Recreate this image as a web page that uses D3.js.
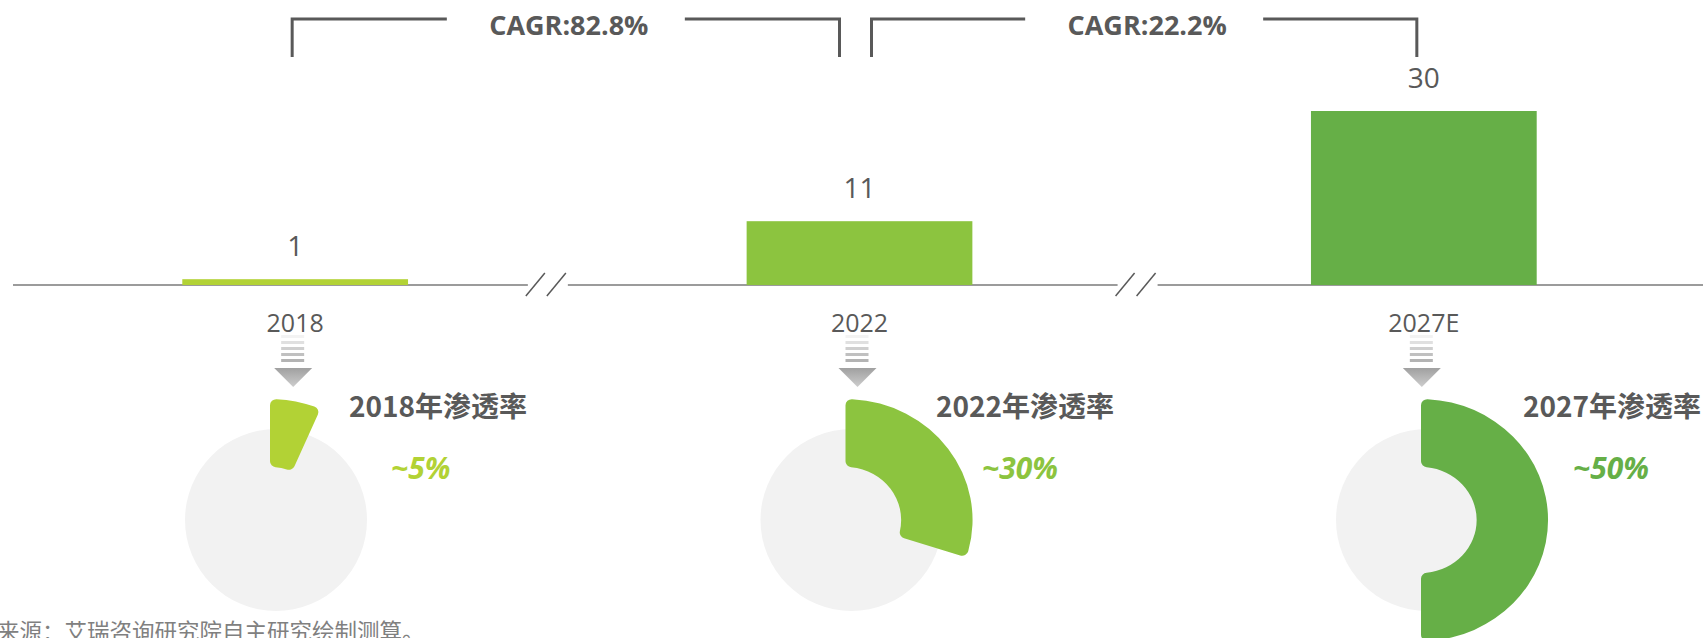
<!DOCTYPE html>
<html>

<head>
  <meta charset="utf-8">
  <title>CAGR penetration</title>
  <style>
    body { margin: 0; background: #fff; overflow: hidden; }
    svg { display: block; }
  </style>
</head>

<body>
  <div id='chart'></div>

  <script src="https://d3js.org/d3.v7.min.js"></script>
  <script>
    // data
    let years = ['2018', '2022', '2027E'];
    let marketValues = [1, 11, 30];
    let pctLabels = ['~5%', '~30%', '~50%'];
    let pctArc = [6.5, 30, 50];
    let pctTitles = ['2018年渗透率', '2022年渗透率', '2027年渗透率'];
    let cagrFrom = ['2018', '2022'];
    let cagrTo = ['2022', '2027E'];
    let cagrLabels = ['CAGR:82.8%', 'CAGR:22.2%'];
    let barColors = ['#b2d235', '#8cc43f', '#66af47'];
    let sourceText = '来源：艾瑞咨询研究院自主研究绘制测算。';

    let svgWidth = 1706;
    let svgHeight = 638;
    let baseY = 285;
    let grey = '#595959';
    // where the axis breaks sit inside each gap between bars
    let breakFrac = [0.41, 0.485];

    function translate(x, y) {
      return 'translate(' + x + ',' + y + ')';
    }

    let svg = d3.select('#chart').append('svg')
      .attr('width', svgWidth)
      .attr('height', svgHeight);

    let defs = svg.append('defs');
    let triGrad = defs.append('linearGradient').attr('id', 'triGrad')
      .attr('x1', 0).attr('y1', 0).attr('x2', 0).attr('y2', 1);
    triGrad.append('stop').attr('offset', '0%').attr('stop-color', '#a0a0a0');
    triGrad.append('stop').attr('offset', '100%').attr('stop-color', '#cdcdcd');

    let x = d3.scaleBand()
      .domain(years)
      .range([13, 1706])
      .paddingInner(0.6)
      .paddingOuter(0.3);

    let y = d3.scaleLinear()
      .domain([0, 30])
      .range([baseY, 111]);

    let donutX = d3.scalePoint().domain(years).range([276, 1427]);
    let titleX = d3.scalePoint().domain(years).range([349, 1523]);
    let pctX = d3.scalePoint().domain(years).range([391, 1573]);

    let cx = d => x(d) + x.bandwidth() / 2;

    // axis line with break marks
    let breaks = years.slice(1).map((d, i) => {
      let a = x(years[i]) + x.bandwidth();
      let b = x(d);
      return a + (b - a) * breakFrac[i];
    });
    let segs = [];
    let start = 13;
    breaks.forEach(b => {
      segs.push([start, b - 19]);
      start = b + 21;
    });
    segs.push([start, 1703]);

    svg.selectAll('.axisSeg').data(segs).enter()
      .append('line')
      .attr('class', 'axisSeg')
      .attr('x1', d => d[0]).attr('x2', d => d[1])
      .attr('y1', baseY).attr('y2', baseY)
      .style('stroke', '#7a7a7a')
      .style('stroke-width', 1.3);

    breaks.forEach(b => {
      [-11, 10].forEach(off => {
        svg.append('line')
          .attr('x1', b + off - 10).attr('y1', baseY + 11)
          .attr('x2', b + off + 9).attr('y2', baseY - 12)
          .style('stroke', grey)
          .style('stroke-width', 1.5);
      });
    });

    // bars
    svg.selectAll('.bar').data(marketValues).enter()
      .append('rect')
      .attr('class', 'bar')
      .attr('x', (d, i) => x(years[i]))
      .attr('width', x.bandwidth())
      .attr('y', d => y(d))
      .attr('height', d => baseY - y(d))
      .style('fill', (d, i) => barColors[i]);

    svg.selectAll('.valLabel').data(marketValues).enter()
      .append('text')
      .attr('class', 'valLabel')
      .attr('x', (d, i) => cx(years[i]))
      .attr('y', d => y(d) - 23)
      .attr('text-anchor', 'middle')
      .style('font-family', 'Open Sans, sans-serif')
      .style('font-size', '28px')
      .style('fill', grey)
      .text(d => d);

    svg.selectAll('.yearLabel').data(years).enter()
      .append('text')
      .attr('class', 'yearLabel')
      .attr('x', d => cx(d))
      .attr('y', baseY + 47)
      .attr('text-anchor', 'middle')
      .style('font-family', 'Open Sans, sans-serif')
      .style('font-size', '25px')
      .style('fill', grey)
      .text(d => d);

    // CAGR brackets
    cagrLabels.forEach((lbl, i) => {
      let x0 = cx(cagrFrom[i]) + (i == 0 ? -3 : 12);
      let x1 = cx(cagrTo[i]) - (i == cagrLabels.length - 1 ? 7 : 20);
      let mid = (x0 + x1) / 2;
      let g = svg.append('g').attr('class', 'cagr');
      g.append('path')
        .attr('d', 'M' + x0 + ',57V19H' + (mid - 119))
        .style('fill', 'none').style('stroke', grey).style('stroke-width', 3);
      g.append('path')
        .attr('d', 'M' + (mid + 119) + ',19H' + x1 + 'V57')
        .style('fill', 'none').style('stroke', grey).style('stroke-width', 3);
      g.append('text')
        .attr('x', mid + 3)
        .attr('y', 35)
        .attr('text-anchor', 'middle')
        .style('font-family', 'Open Sans, sans-serif')
        .style('font-weight', 'bold')
        .style('font-size', '27px')
        .style('fill', grey)
        .text(lbl);
    });

    // arrows
    let stripeY = [335, 341, 347, 353, 359];
    let stripeC = ['#f3f3f3', '#e0e0e0', '#cfcfcf', '#c0c0c0', '#b3b3b3'];
    years.forEach(yr => {
      let g = svg.append('g').attr('transform', translate(cx(yr) - 2, 0));
      g.selectAll('rect').data(stripeY).enter()
        .append('rect')
        .attr('x', -12).attr('width', 23)
        .attr('y', d => d).attr('height', 3)
        .style('fill', (d, i) => stripeC[i]);
      g.append('path')
        .attr('d', 'M-19,368H19L0,387Z')
        .style('fill', 'url(#triGrad)');
    });

    // penetration donuts
    let arc = d3.arc()
      .innerRadius(53)
      .outerRadius(121)
      .cornerRadius(6)
      .startAngle(0)
      .endAngle(d => d / 100 * 2 * Math.PI);

    years.forEach((yr, i) => {
      let g = svg.append('g').attr('transform', translate(donutX(yr), 520));
      g.append('circle').attr('r', 91).style('fill', '#f2f2f2');
      g.append('path')
        .attr('transform', translate(-6, 0) + ' scale(1.05,1)')
        .attr('d', arc(pctArc[i]))
        .style('fill', barColors[i]);

      svg.append('text')
        .attr('x', titleX(yr))
        .attr('y', 417)
        .style('font-family', 'Noto Sans CJK SC, sans-serif')
        .style('font-weight', 'bold')
        .style('font-size', '28px')
        .style('fill', grey)
        .text(pctTitles[i]);

      svg.append('text')
        .attr('x', pctX(yr))
        .attr('y', 479)
        .style('font-family', 'Open Sans, sans-serif')
        .style('font-weight', 'bold')
        .style('font-style', 'italic')
        .style('font-size', '30px')
        .style('fill', barColors[i])
        .text(pctLabels[i]);
    });

    svg.append('text')
      .attr('x', -3)
      .attr('y', 640)
      .style('font-family', 'Noto Sans CJK SC, sans-serif')
      .style('font-size', '22.5px')
      .style('fill', '#808080')
      .text(sourceText);
  </script>
</body>

</html>
